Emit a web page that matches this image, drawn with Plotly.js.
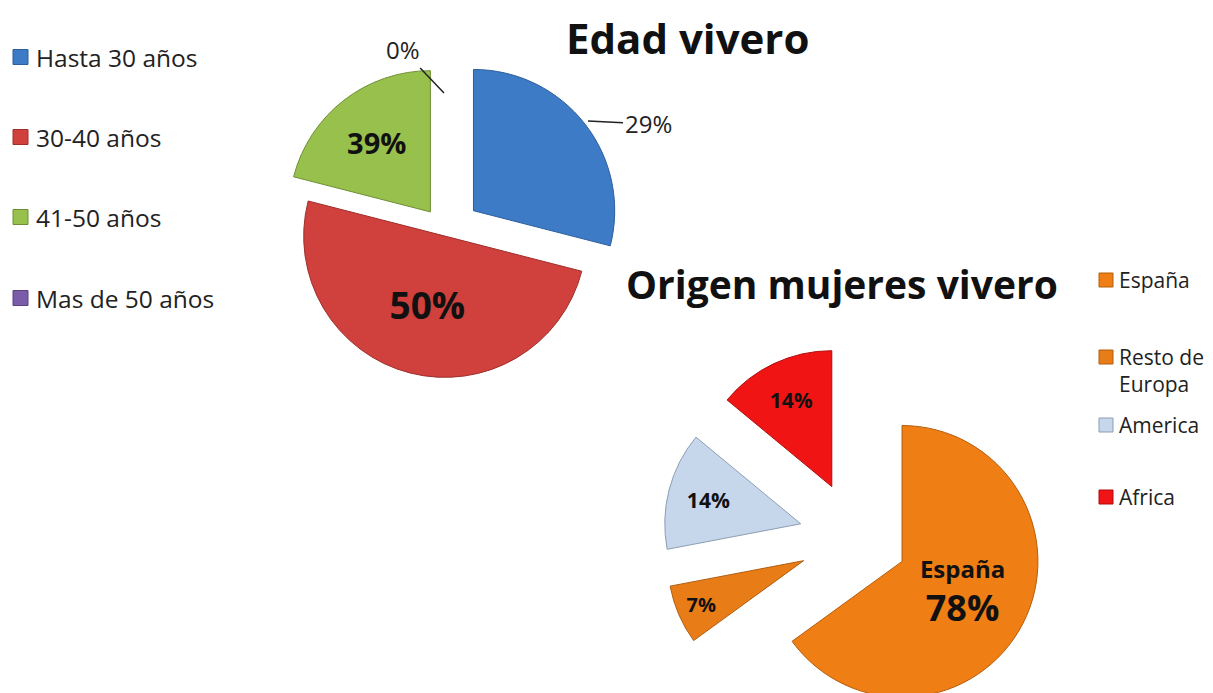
<!DOCTYPE html>
<html>
<head>
<meta charset="utf-8">
<script src="https://cdn.plot.ly/plotly-3.0.1.min.js"></script>
<style>
  html, body { margin: 0; padding: 0; overflow: hidden; background: #fff; }
  #graph { width: 1213px; height: 780px; }
</style>
</head>
<body>
<div id="graph"></div>
<script>
// Edad vivero
var edadLabels = ['Hasta 30 años', '30-40 años', '41-50 años', 'Mas de 50 años'];
var edadValues = [29, 50, 21, 0];
var edadText = ['29%', '50%', '39%', '0%'];
var edadColors = ['#3d7bc6', '#d0403c', '#98c04c', '#7b5ca8'];
var edadLines = ['#2d5f9c', '#9e2f2c', '#6f8f35', '#5a4380'];

// Origen mujeres vivero
var origenLabels = ['España', 'Resto de<br>Europa', 'America', 'Africa'];
var origenValues = [65, 7, 14, 14];
var origenText = ['España', '7%', '14%', '14%'];
var origenPct = ['78%', '7%', '14%', '14%'];
var origenColors = ['#ef7e14', '#e87d18', '#c6d7ec', '#f01414'];
var origenLines = ['#b65e0c', '#b05d10', '#8c9db4', '#b00d0d'];

var W = 1213, H = 780;
function px(p) { return p / W; }
function py(p) { return 1 - p / H; }
var FONT = '"Open Sans", sans-serif';

var edad = {
    type: 'pie',
    labels: edadLabels,
    values: edadValues,
    text: edadText.map(function(t) { return '<b>' + t + '</b>'; }),
    textinfo: 'text',
    textposition: ['none', 'inside', 'inside', 'none'],
    insidetextorientation: 'horizontal',
    textfont: {family: FONT, size: [24, 37, 29, 20], color: '#111'},
    sort: false,
    direction: 'clockwise',
    rotation: 0,
    pull: [0.246, 0.03, 0.18, 0],
    marker: {colors: edadColors, line: {color: edadLines, width: [1, 1, 1, 0]}},
    domain: {x: [px(270), px(622)], y: [py(408), py(56)]},
    showlegend: false,
    hoverinfo: 'label+text'
};

var origen = {
    type: 'pie',
    labels: origenLabels,
    values: origenValues,
    text: origenText.map(function(t, i) {
        if (i == 0) {
            // leading blank line pushes the block a bit lower, as in the original
            return '<br><b><span style="font-size:24px">' + t + '</span></b><br>' +
                   '<b><span style="font-size:36px">' + origenPct[0] + '</span></b>';
        }
        return '<b>' + t + '</b>';
    }),
    textinfo: 'text',
    textposition: 'inside',
    insidetextorientation: 'horizontal',
    textfont: {family: FONT, size: [33, 20, 21, 21], color: '#111'},
    sort: false,
    direction: 'clockwise',
    rotation: 0,
    pull: [0.38, 0.42, 0.42, 0.418],
    marker: {colors: origenColors, line: {color: origenLines, width: 1}},
    domain: {x: [px(663), px(1049)], y: [py(731), py(345)]},
    showlegend: false,
    hoverinfo: 'label+text'
};

var annotations = [
    {text: '<b>Edad vivero</b>', x: px(687), y: py(37), size: 42},
    {text: '<b>Origen mujeres vivero</b>', x: px(842), y: py(283), size: 39}
].map(function(a) {
    return {text: a.text, xref: 'paper', yref: 'paper', x: a.x, y: a.y,
            xanchor: 'center', yanchor: 'middle', showarrow: false,
            font: {family: FONT, size: a.size, color: '#111'}};
});

// outside labels with leader lines
annotations.push({text: edadText[0], xref: 'paper', yref: 'paper',
    x: px(588), y: py(121), ax: px(648), ay: py(124), axref: 'paper', ayref: 'paper',
    showarrow: true, arrowhead: 0, arrowwidth: 1.5, arrowcolor: '#222', standoff: 0,
    font: {family: FONT, size: 24, color: '#222'}});
annotations.push({text: edadText[3], xref: 'paper', yref: 'paper',
    x: px(444), y: py(93), ax: px(403), ay: py(50), axref: 'paper', ayref: 'paper',
    showarrow: true, arrowhead: 0, arrowwidth: 1.5, arrowcolor: '#222', standoff: 0,
    font: {family: FONT, size: 24, color: '#222'}});

// legends (Excel style: square key, wide spacing)
var shapes = [];
function addLegend(labels, colors, lines, rows, keyX, textX, size, keySize) {
    labels.forEach(function(l, i) {
        var y = rows[i];
        shapes.push({type: 'rect', xref: 'paper', yref: 'paper',
            x0: px(keyX), x1: px(keyX + keySize), y0: py(y + keySize / 2), y1: py(y - keySize / 2),
            fillcolor: colors[i], line: {color: lines[i], width: 1}});
        var lh = size * 1.3;
        annotations.push({text: l, xref: 'paper', yref: 'paper',
            x: px(textX), y: py(y - lh / 2 - 1), xanchor: 'left', yanchor: 'top',
            align: 'left', showarrow: false, borderpad: 0,
            font: {family: FONT, size: size, color: '#222'}});
    });
}
addLegend(edadLabels, edadColors, edadLines, [57, 137, 217, 298], 13, 35, 24.5, 15);
addLegend(origenLabels, origenColors, origenLines, [280, 357, 425, 497], 1099, 1118, 21, 14);

var layout = {
    width: W,
    height: H,
    margin: {l: 0, r: 0, t: 0, b: 0},
    paper_bgcolor: '#ffffff',
    font: {family: FONT, color: '#222'},
    showlegend: false,
    annotations: annotations,
    shapes: shapes
};

Plotly.newPlot('graph', [edad, origen], layout, {displayModeBar: false, staticPlot: true});
</script>
</body>
</html>
